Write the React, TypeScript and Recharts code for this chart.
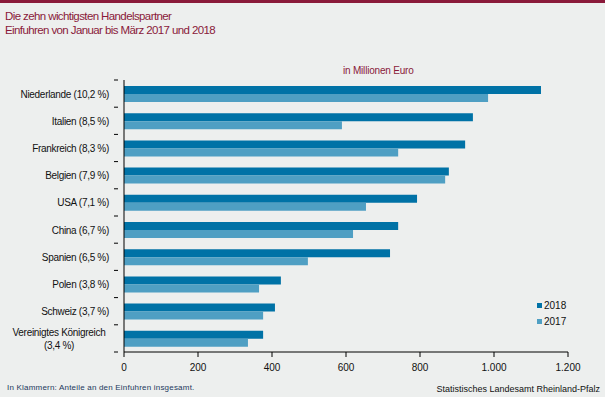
import React from 'react';
import { BarChart, Bar, XAxis, YAxis } from 'recharts';

// Handelspartner, Einfuhren Jan–März (Mill. EUR)
const partners = [
  'Niederlande (10,2 %)',
  'Italien (8,5 %)',
  'Frankreich (8,3 %)',
  'Belgien (7,9 %)',
  'USA (7,1 %)',
  'China (6,7 %)',
  'Spanien (6,5 %)',
  'Polen (3,8 %)',
  'Schweiz (3,7 %)',
  'Vereinigtes Königreich\n(3,4 %)',
];
const values2018 = [1127, 943, 922, 878, 792, 741, 719, 424, 408, 376];
const values2017 = [984, 589, 741, 868, 654, 619, 497, 365, 376, 335];
const xTicks = [0, 200, 400, 600, 800, 1000, 1200];

const C2018 = '#0072a6';
const C2017 = '#4f9fc3';
const FONT = '"Liberation Sans", Arial, sans-serif';

const CHART_H = 397;
const TOP = 80;
const X_AXIS_H = 45;
const BAND = (CHART_H - TOP - X_AXIS_H) / partners.length;

const data = partners.map((name, i) => ({ name, y2018: values2018[i], y2017: values2017[i] }));

const fmt = (v: number) => v.toLocaleString('de-DE');

// label plus a tick mark at the band boundaries (like the original)
function CategoryTick(props: any) {
  const { x, y, payload, index } = props;
  const lines = String(payload.value).split('\n');
  const axisX = x + 9;
  const style = { letterSpacing: '-0.3px' };
  return (
    <g>
      <line x1={axisX - 4} x2={axisX} y1={y - BAND / 2} y2={y - BAND / 2} stroke="#000" />
      {index === partners.length - 1 && (
        <line x1={axisX - 4} x2={axisX} y1={y + BAND / 2} y2={y + BAND / 2} stroke="#000" />
      )}
      {lines.length === 1 ? (
        <text x={x} y={y} dy={4} textAnchor="end" fontSize={10} fill="#111" fontFamily={FONT} style={style}>
          {lines[0]}
        </text>
      ) : (
        <text x={x - 50} y={y} textAnchor="middle" fontSize={10} fill="#111" fontFamily={FONT} style={style}>
          <tspan x={x - 50} dy={-2}>{lines[0]}</tspan>
          <tspan x={x - 50} dy={13}>{lines[1]}</tspan>
        </text>
      )}
    </g>
  );
}

function LegendBox() {
  const items = [
    { label: '2018', color: C2018 },
    { label: '2017', color: C2017 },
  ];
  return (
    <div style={{ position: 'absolute', left: 537, top: 297, fontFamily: FONT, fontSize: 10, color: '#111' }}>
      {items.map(it => (
        <div key={it.label} style={{ display: 'flex', alignItems: 'center', height: 16 }}>
          <span style={{ width: 5, height: 5, background: it.color, marginRight: 2, display: 'inline-block' }} />
          {it.label}
        </div>
      ))}
    </div>
  );
}

export default function App() {
  return (
    <div style={{ position: 'absolute', left: 0, top: 0, width: 605, height: CHART_H, background: '#edefee', fontFamily: FONT, overflow: 'hidden' }}>
      <div style={{ position: 'absolute', left: 0, top: 0, width: 605, height: 3, background: '#8a1a3a' }} />
      <div style={{ position: 'absolute', left: 5, top: 9, fontSize: 11.5, lineHeight: '14px', color: '#8a1a3a', letterSpacing: '-0.6px' }}>
        Die zehn wichtigsten Handelspartner
        <br />
        Einfuhren von Januar bis März 2017 und 2018
      </div>
      <div style={{ position: 'absolute', left: 343, top: 65, fontSize: 10, color: '#8a1a3a', letterSpacing: '-0.2px' }}>in Millionen Euro</div>

      <div style={{ position: 'absolute', left: 0, top: 0 }}>
        <BarChart
          width={605}
          height={CHART_H}
          data={data}
          layout="vertical"
          margin={{ top: TOP, right: 37, left: 0, bottom: 0 }}
          barSize={8}
          barGap={0}
        >
          <XAxis
            type="number"
            domain={[0, 1200]}
            ticks={xTicks}
            tickFormatter={fmt}
            height={X_AXIS_H}
            stroke="#000"
            tickSize={5}
            tickMargin={7}
            tick={{ fontSize: 10, fill: '#111', fontFamily: FONT }}
          />
          <YAxis
            type="category"
            dataKey="name"
            width={124}
            stroke="#000"
            tickLine={false}
            tickMargin={9}
            interval={0}
            tick={<CategoryTick />}
          />
          <Bar dataKey="y2018" fill={C2018} isAnimationActive={false} />
          <Bar dataKey="y2017" fill={C2017} isAnimationActive={false} />
        </BarChart>
      </div>

      <LegendBox />
      <div style={{ position: 'absolute', left: 7, top: 383, fontSize: 8, color: '#23395d', letterSpacing: '0.2px' }}>
        In Klammern: Anteile an den Einfuhren insgesamt.
      </div>
      <div style={{ position: 'absolute', right: 5, top: 384, fontSize: 9, color: '#111' }}>
        Statistisches Landesamt Rheinland-Pfalz
      </div>
    </div>
  );
}
